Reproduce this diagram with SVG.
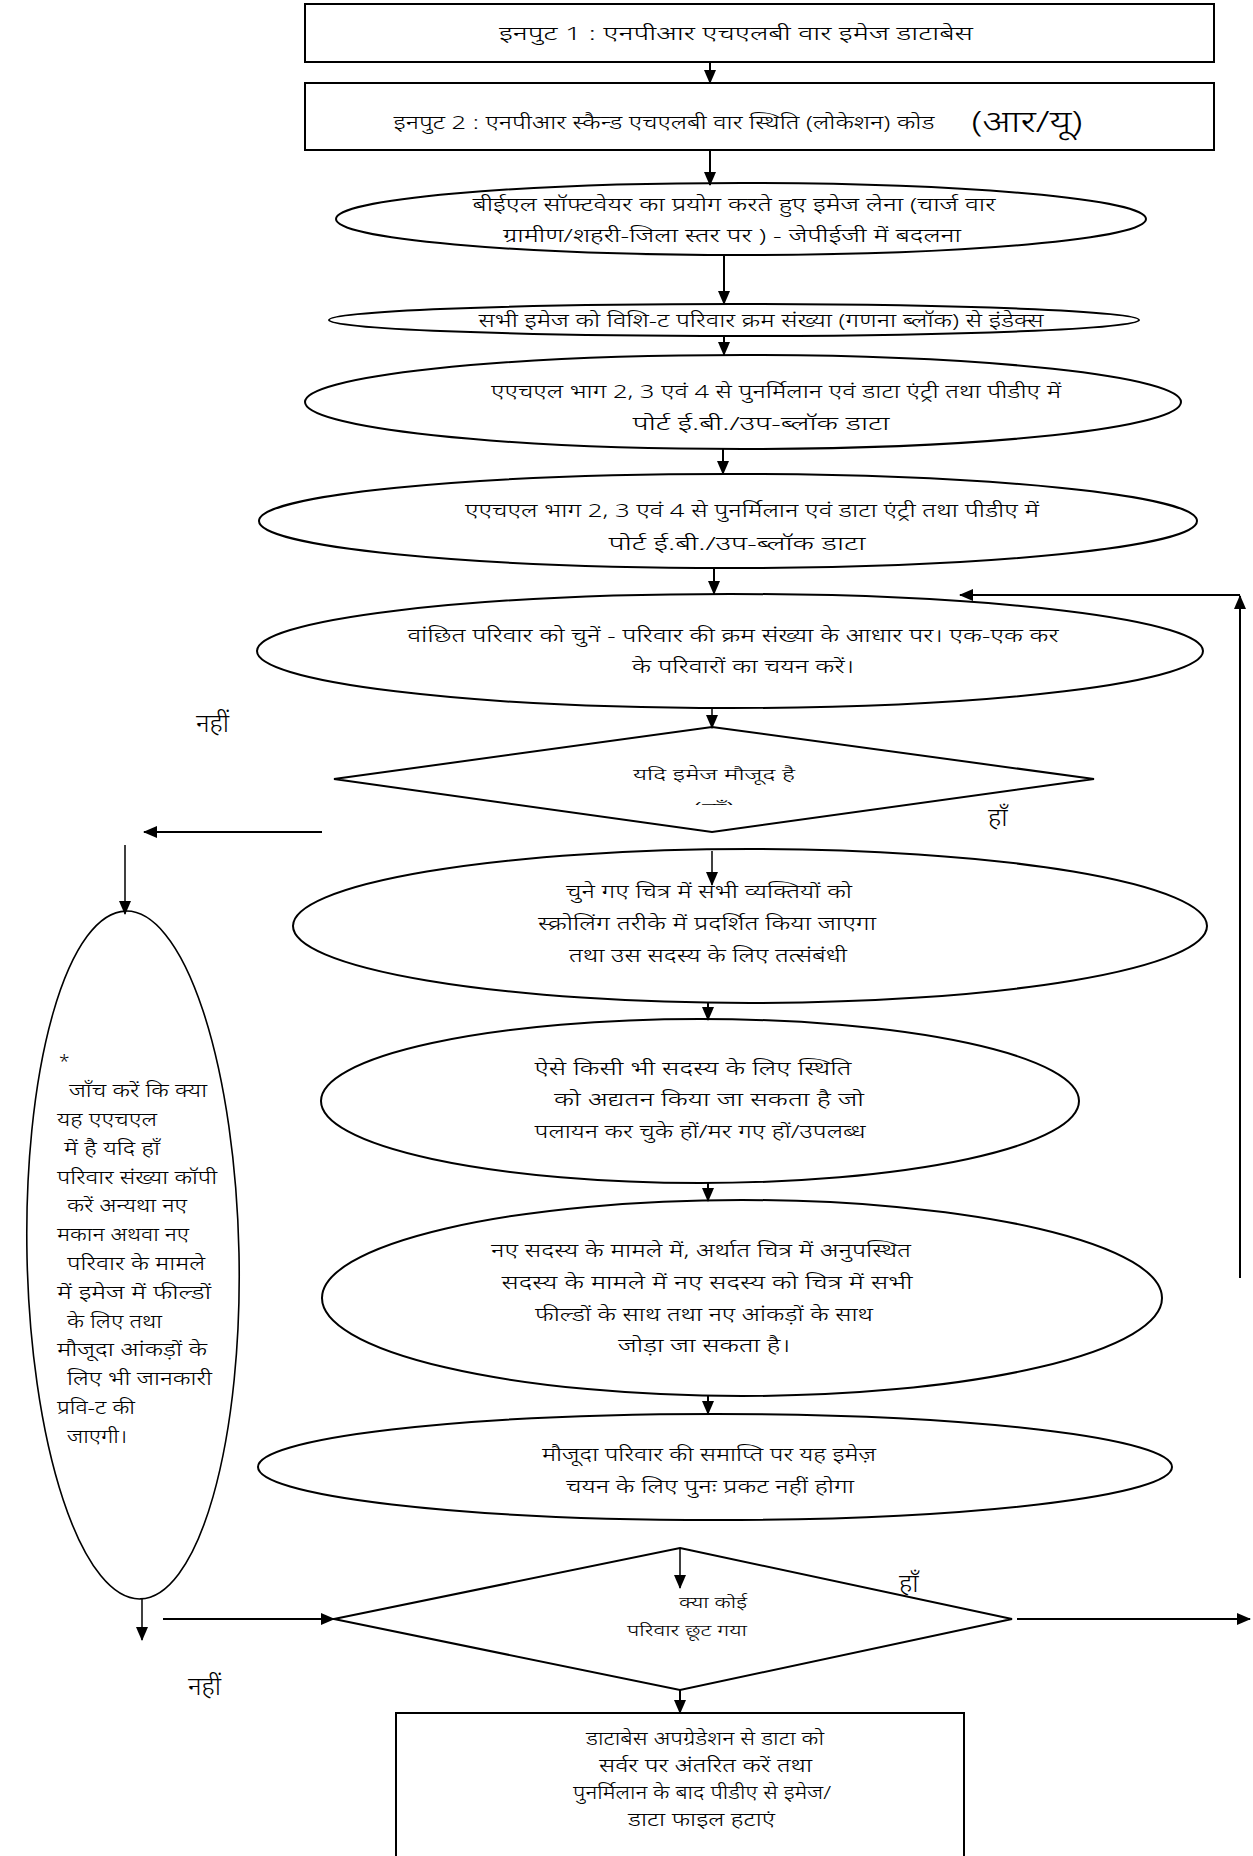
<svg xmlns="http://www.w3.org/2000/svg" width="1253" height="1856" viewBox="0 0 1253 1856">
<style>
.box{fill:#fff;stroke:#000;stroke-width:2}
.el{fill:#fff;stroke:#000;stroke-width:2}
.thin{fill:#fff;stroke:#000;stroke-width:1.6}
.t{font-family:"Noto Sans","DejaVu Sans",sans-serif;font-size:19px;font-weight:300;fill:#000;text-anchor:middle}
.s{font-family:"Noto Sans","DejaVu Sans",sans-serif;font-size:16px;font-weight:300;fill:#000;text-anchor:middle}
.m{font-family:"Noto Sans","DejaVu Sans",sans-serif;font-size:19px;font-weight:300;fill:#000}
.lab{font-family:"Noto Sans","DejaVu Sans",sans-serif;font-size:26px;font-weight:300;fill:#000}
.c{stroke:#000;stroke-width:2;fill:none;marker-end:url(#ah)}
.c1{stroke:#000;stroke-width:1.5;fill:none;marker-end:url(#ah)}
</style>
<defs>
<marker id="ah" markerUnits="userSpaceOnUse" markerWidth="14" markerHeight="14" viewBox="0 0 14 14" refX="13" refY="7" orient="auto">
<path d="M0,1 L14,7 L0,13 z" fill="#000"/>
</marker>
<clipPath id="cd1"><rect x="600" y="795" width="230" height="10"/></clipPath>
</defs>

<g id="input1">
<rect class="box" x="305" y="4" width="909" height="58"/>
<text class="t" x="736" y="40" textLength="474" lengthAdjust="spacingAndGlyphs">इनपुट 1  :  एनपीआर एचएलबी वार इमेज डाटाबेस</text>
</g>
<g id="input2">
<rect class="box" x="305" y="83" width="909" height="67"/>
<text class="t" x="664" y="129" textLength="541" lengthAdjust="spacingAndGlyphs">इनपुट 2  :  एनपीआर स्कैन्ड एचएलबी वार स्थिति (लोकेशन) कोड</text>
<text class="t" x="1027" y="132" style="font-size:30px" textLength="111" lengthAdjust="spacingAndGlyphs">(आर/यू)</text>
</g>
<g id="capture">
<ellipse class="el" cx="741" cy="219" rx="405" ry="36"/>
<text class="t" x="734" y="211" textLength="523" lengthAdjust="spacingAndGlyphs">बीईएल सॉफ्टवेयर का प्रयोग करते हुए इमेज लेना (चार्ज वार</text>
<text class="t" x="732" y="242" textLength="458" lengthAdjust="spacingAndGlyphs">ग्रामीण/शहरी-जिला स्तर पर ) - जेपीईजी  में बदलना</text>
</g>
<g id="index">
<ellipse class="el" cx="734" cy="320" rx="405" ry="16"/>
<text class="t" x="761" y="327" textLength="565" lengthAdjust="spacingAndGlyphs">सभी इमेज को विशि-ट परिवार क्रम संख्या (गणना ब्लॉक) से इंडेक्स</text>
</g>
<g id="port1">
<ellipse class="el" cx="743" cy="402" rx="438" ry="47"/>
<text class="t" x="776" y="398" textLength="570" lengthAdjust="spacingAndGlyphs">एएचएल भाग 2, 3 एवं 4 से पुनर्मिलान एवं डाटा एंट्री तथा पीडीए में</text>
<text class="t" x="761" y="430" textLength="257" lengthAdjust="spacingAndGlyphs">पोर्ट ई.बी./उप-ब्लॉक डाटा</text>
</g>
<g id="port2">
<ellipse class="el" cx="728" cy="521" rx="469" ry="47"/>
<text class="t" x="752" y="517" textLength="574" lengthAdjust="spacingAndGlyphs">एएचएल भाग 2, 3 एवं 4 से पुनर्मिलान एवं डाटा एंट्री तथा पीडीए में</text>
<text class="t" x="737" y="550" textLength="257" lengthAdjust="spacingAndGlyphs">पोर्ट ई.बी./उप-ब्लॉक डाटा</text>
</g>
<g id="select">
<ellipse class="el" cx="730" cy="651" rx="473" ry="57"/>
<text class="t" x="733" y="642" textLength="651" lengthAdjust="spacingAndGlyphs">वांछित परिवार को चुनें - परिवार की क्रम संख्या के आधार पर। एक-एक कर</text>
<text class="t" x="743" y="673" textLength="222" lengthAdjust="spacingAndGlyphs">के परिवारों का चयन करें।</text>
</g>
<g id="imgexists">
<polygon class="box" points="712,727 1094,779 712,832 334,779"/>
<text class="s" x="714" y="780" textLength="162" lengthAdjust="spacingAndGlyphs">यदि इमेज मौजूद है</text>
<text class="s" x="714" y="814" clip-path="url(#cd1)" textLength="42" lengthAdjust="spacingAndGlyphs">(हाँ)</text>
</g>
<g id="scroll">
<ellipse class="el" cx="750" cy="926" rx="457" ry="77"/>
<text class="t" x="709" y="898" textLength="286" lengthAdjust="spacingAndGlyphs">चुने गए चित्र में सभी व्यक्तियों को</text>
<text class="t" x="707" y="930" textLength="338" lengthAdjust="spacingAndGlyphs">स्क्रोलिंग तरीके में प्रदर्शित किया जाएगा</text>
<text class="t" x="708" y="962" textLength="278" lengthAdjust="spacingAndGlyphs">तथा उस सदस्य के लिए तत्संबंधी</text>
</g>
<g id="status">
<ellipse class="el" cx="700" cy="1101" rx="379" ry="82"/>
<text class="t" x="693" y="1075" textLength="317" lengthAdjust="spacingAndGlyphs">ऐसे किसी भी सदस्य के लिए स्थिति</text>
<text class="t" x="709" y="1106" textLength="310" lengthAdjust="spacingAndGlyphs">को अद्यतन किया जा सकता है जो</text>
<text class="t" x="700" y="1138" textLength="331" lengthAdjust="spacingAndGlyphs">पलायन कर चुके हों/मर गए हों/उपलब्ध</text>
</g>
<g id="newmember">
<ellipse class="el" cx="742" cy="1298" rx="420" ry="98"/>
<text class="t" x="701" y="1257" textLength="420" lengthAdjust="spacingAndGlyphs">नए सदस्य के मामले में, अर्थात चित्र में अनुपस्थित</text>
<text class="t" x="707" y="1289" textLength="411" lengthAdjust="spacingAndGlyphs">सदस्य के मामले में नए सदस्य को चित्र में सभी</text>
<text class="t" x="704" y="1321" textLength="338" lengthAdjust="spacingAndGlyphs">फील्डों के साथ तथा नए आंकड़ों के साथ</text>
<text class="t" x="704" y="1352" textLength="172" lengthAdjust="spacingAndGlyphs">जोड़ा जा सकता है।</text>
</g>
<g id="finish">
<ellipse class="el" cx="715" cy="1467" rx="457" ry="53"/>
<text class="t" x="709" y="1461" textLength="334" lengthAdjust="spacingAndGlyphs">मौजूदा परिवार की समाप्ति पर यह इमेज़</text>
<text class="t" x="710" y="1493" textLength="288" lengthAdjust="spacingAndGlyphs">चयन के लिए पुनः प्रकट नहीं होगा</text>
</g>
<g id="check">
<ellipse class="thin" cx="133" cy="1255" rx="106" ry="344" transform="rotate(-1.2 133 1255)"/>
<text class="m" x="59" y="1068">*</text>
<text class="m" x="69" y="1097" textLength="138" lengthAdjust="spacingAndGlyphs">जाँच करें कि क्या</text>
<text class="m" x="57" y="1126" textLength="100" lengthAdjust="spacingAndGlyphs">यह एएचएल</text>
<text class="m" x="64" y="1155" textLength="96" lengthAdjust="spacingAndGlyphs">में है यदि हाँ</text>
<text class="m" x="57" y="1184" textLength="160" lengthAdjust="spacingAndGlyphs">परिवार संख्या कॉपी</text>
<text class="m" x="67" y="1212" textLength="120" lengthAdjust="spacingAndGlyphs">करें अन्यथा नए</text>
<text class="m" x="57" y="1241" textLength="132" lengthAdjust="spacingAndGlyphs">मकान अथवा नए</text>
<text class="m" x="67" y="1270" textLength="138" lengthAdjust="spacingAndGlyphs">परिवार के मामले</text>
<text class="m" x="57" y="1299" textLength="154" lengthAdjust="spacingAndGlyphs">में इमेज में फील्डों</text>
<text class="m" x="67" y="1328" textLength="95" lengthAdjust="spacingAndGlyphs">के लिए तथा</text>
<text class="m" x="57" y="1356" textLength="150" lengthAdjust="spacingAndGlyphs">मौजूदा आंकड़ों के</text>
<text class="m" x="67" y="1385" textLength="145" lengthAdjust="spacingAndGlyphs">लिए भी जानकारी</text>
<text class="m" x="57" y="1414" textLength="78" lengthAdjust="spacingAndGlyphs">प्रवि-ट की</text>
<text class="m" x="67" y="1443" textLength="60" lengthAdjust="spacingAndGlyphs">जाएगी।</text>
</g>
<g id="missed">
<polygon class="box" points="680,1548 1012,1619 680,1690 334,1619"/>
<text class="s" x="713" y="1608" textLength="68" lengthAdjust="spacingAndGlyphs">क्या कोई</text>
<text class="s" x="687" y="1636" textLength="120" lengthAdjust="spacingAndGlyphs">परिवार छूट गया</text>
</g>
<g id="upload">
<rect class="box" x="396" y="1713" width="568" height="150"/>
<text class="m" x="586" y="1745" textLength="238" lengthAdjust="spacingAndGlyphs">डाटाबेस अपग्रेडेशन से डाटा को</text>
<text class="m" x="599" y="1772" textLength="213" lengthAdjust="spacingAndGlyphs">सर्वर पर अंतरित करें तथा</text>
<text class="m" x="573" y="1799" textLength="258" lengthAdjust="spacingAndGlyphs">पुनर्मिलान के बाद पीडीए से इमेज/</text>
<text class="m" x="628" y="1826" textLength="147" lengthAdjust="spacingAndGlyphs">डाटा फाइल हटाएं</text>
</g>
<g id="labels">
<text class="lab" x="196" y="732">नहीं</text>
<text class="lab" x="988" y="826">हाँ</text>
<text class="lab" x="899" y="1592">हाँ</text>
<text class="lab" x="188" y="1695">नहीं</text>
</g>
<g id="connectors">
<line class="c" x1="710" y1="62" x2="710" y2="83"/>
<line class="c" x1="710" y1="150" x2="710" y2="185"/>
<line class="c" x1="724" y1="255" x2="724" y2="304"/>
<line class="c" x1="724" y1="336" x2="724" y2="355"/>
<line class="c" x1="723" y1="449" x2="723" y2="474"/>
<line class="c" x1="714" y1="568" x2="714" y2="594"/>
<line class="c1" x1="712" y1="708" x2="712" y2="728"/>
<line class="c1" x1="712" y1="851" x2="712" y2="885"/>
<line class="c" x1="708" y1="1003" x2="708" y2="1020"/>
<line class="c" x1="708" y1="1183" x2="708" y2="1201"/>
<line class="c" x1="708" y1="1396" x2="708" y2="1414"/>
<line class="c1" x1="680" y1="1548" x2="680" y2="1588"/>
<line class="c" x1="680" y1="1690" x2="680" y2="1713"/>
<line class="c" x1="322" y1="832" x2="144" y2="832"/>
<line class="c1" x1="125" y1="845" x2="125" y2="914"/>
<line class="c1" x1="142" y1="1599" x2="142" y2="1640"/>
<line class="c" x1="163" y1="1619" x2="334" y2="1619"/>
<line class="c" x1="1017" y1="1619" x2="1250" y2="1619"/>
<line class="c" x1="1240" y1="1278" x2="1240" y2="596"/>
<line class="c" x1="1240" y1="595" x2="960" y2="595"/>
</g>
</svg>
